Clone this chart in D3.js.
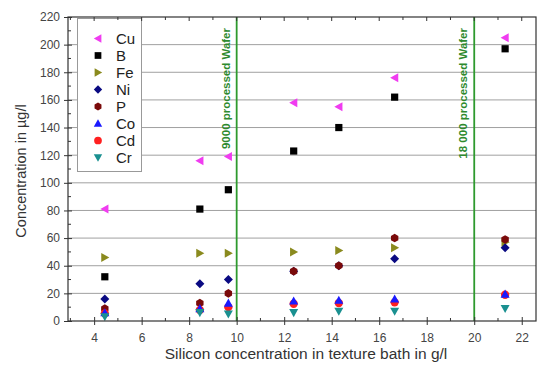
<!DOCTYPE html>
<html lang="en">
<head>
<meta charset="UTF-8">
<title>Concentration chart</title>
<script src="https://cdn.jsdelivr.net/npm/d3@7"></script>
<style>
  body { margin: 0; background: #fff; }
  svg text { font-family: "Liberation Sans", Arial, sans-serif; }
</style>
</head>
<body>
<div id="chart"></div>
<script>
// silicon concentration (g/l) for each sample
const silicon = [4.45, 8.45, 9.65, 12.4, 14.3, 16.65, 21.3];
// concentrations in µg/l, one array per element
const cu = [81, 116, 119, 158, 155, 176, 205];
const b  = [32, 81, 95, 123, 140, 162, 197];
const fe = [46, 49, 49, 50, 51, 53, 57];
const ni = [16, 27, 30, 36, 40, 45, 53];
const p  = [9, 13, 20, 36, 40, 60, 59];
const co = [6, 9, 13, 14.5, 15, 16, 19.5];
const cd = [5.5, 8, 10, 12.5, 13, 13.5, 19];
const cr = [3, 6, 5, 6, 7, 7, 9];
const xTicks = [4, 6, 8, 10, 12, 14, 16, 18, 20, 22];
const yTicks = [0, 20, 40, 60, 80, 100, 120, 140, 160, 180, 200, 220];
const markers = [10, 20];
const markerLabels = ["9000 processed Wafer", "18 000 processed Wafer"];

const series = [
  {name: "Cu", values: cu, shape: "left", color: "#f03cf0"},
  {name: "B", values: b, shape: "square", color: "#000000"},
  {name: "Fe", values: fe, shape: "right", color: "#8a8a1e"},
  {name: "Ni", values: ni, shape: "diamond", color: "#0a0a82"},
  {name: "P", values: p, shape: "hex", color: "#7a0a0a"},
  {name: "Co", values: co, shape: "up", color: "#1a1aff"},
  {name: "Cd", values: cd, shape: "circle", color: "#ff2020"},
  {name: "Cr", values: cr, shape: "down", color: "#1a9090"}
];
// Cd sits behind Co in the plot
const drawOrder = ["Cu", "B", "Fe", "Ni", "P", "Cd", "Co", "Cr"];

const width = 542, height = 365;
const marginLeft = 68, marginRight = 6, marginTop = 17, marginBottom = 44;

const x = d3.scaleLinear().domain([2.9, 22.6]).range([marginLeft, width - marginRight]);
const y = d3.scaleLinear().domain([0, 220]).range([height - marginBottom, marginTop]);

const svg = d3.select("#chart").append("svg")
  .attr("width", width)
  .attr("height", height);

// marker shapes
function shapePath(type, r) {
  switch (type) {
    case "left": return `M${-r},0L${r * 0.8},${-r}L${r * 0.8},${r}Z`;
    case "right": return `M${r},0L${-r * 0.8},${-r}L${-r * 0.8},${r}Z`;
    case "up": return `M0,${-r}L${r},${r * 0.8}L${-r},${r * 0.8}Z`;
    case "down": return `M0,${r}L${r},${-r * 0.8}L${-r},${-r * 0.8}Z`;
    case "square": return `M${-r * 0.8},${-r * 0.8}h${r * 1.6}v${r * 1.6}h${-r * 1.6}Z`;
    case "diamond": return `M0,${-r}L${r},0L0,${r}L${-r},0Z`;
    case "hex": {
      const pts = d3.range(6).map(i => {
        const a = Math.PI / 6 + i * Math.PI / 3;
        return [r * 0.95 * Math.cos(a), r * 0.95 * Math.sin(a)];
      });
      return "M" + pts.join("L") + "Z";
    }
    default: return d3.symbol(d3.symbolCircle, Math.PI * r * r * 0.85)();
  }
}

// gridlines
svg.append("g")
  .selectAll("line")
  .data(yTicks.filter(d => d > 0 && d < 220))
  .join("line")
  .attr("x1", marginLeft).attr("x2", width - marginRight)
  .attr("y1", d => y(d)).attr("y2", d => y(d))
  .attr("stroke", "#a0a0a0")
  .attr("stroke-width", 1);

// vertical wafer markers
svg.append("g")
  .selectAll("line")
  .data(markers)
  .join("line")
  .attr("x1", d => x(d)).attr("x2", d => x(d))
  .attr("y1", y(220)).attr("y2", y(0))
  .attr("stroke", "#2e9a2e")
  .attr("stroke-width", 1.8);

svg.append("g")
  .selectAll("text")
  .data(markers)
  .join("text")
  .attr("transform", d => `translate(${x(d) - 7},${marginTop + 11}) rotate(-90)`)
  .attr("text-anchor", "end")
  .attr("font-size", 11.5)
  .attr("font-weight", "bold")
  .attr("fill", "#2e8a2e")
  .text((d, i) => markerLabels[i]);

// legend box
const legend = svg.append("g");
legend.append("rect")
  .attr("x", 77.5).attr("y", marginTop + 1.5)
  .attr("width", 64).attr("height", 153)
  .attr("fill", "#fff")
  .attr("stroke", "#999");

legend.selectAll("g")
  .data(series)
  .join("g")
  .attr("transform", (d, i) => `translate(98,${38.5 + i * 17})`)
  .call(g => g.append("path")
    .attr("d", d => shapePath(d.shape, 4.2))
    .attr("fill", d => d.color))
  .call(g => g.append("text")
    .attr("x", 18)
    .attr("dy", "0.36em")
    .attr("font-size", 15)
    .attr("fill", "#222")
    .text(d => d.name));

// data points
svg.append("g")
  .selectAll("g")
  .data(drawOrder.map(n => series.find(s => s.name === n)))
  .join("g")
  .attr("fill", d => d.color)
  .selectAll("path")
  .data(d => d.values.map((v, i) => ({shape: d.shape, x: silicon[i], v})))
  .join("path")
  .attr("transform", d => `translate(${x(d.x)},${y(d.v)})`)
  .attr("d", d => shapePath(d.shape, 4.5));

// frame
svg.append("rect")
  .attr("x", marginLeft).attr("y", marginTop)
  .attr("width", width - marginRight - marginLeft)
  .attr("height", height - marginBottom - marginTop)
  .attr("fill", "none")
  .attr("stroke", "#333")
  .attr("stroke-width", 1.2);

// axes
const minorX = d3.range(3, 23, 2);
const minorY = d3.range(10, 220, 20);

const bottomAxis = svg.append("g")
  .attr("transform", `translate(0,${y(0)})`)
  .call(d3.axisBottom(x).tickValues(xTicks).tickSize(4).tickPadding(8))
  .call(g => g.select(".domain").remove());
bottomAxis.selectAll(".tick line").attr("y1", -4).attr("stroke", "#333");
bottomAxis.selectAll(".tick text").attr("font-size", 12).attr("fill", "#444");
bottomAxis.append("g").selectAll("line").data(minorX).join("line")
  .attr("x1", d => x(d)).attr("x2", d => x(d)).attr("y1", 0).attr("y2", -3)
  .attr("stroke", "#333");

const topAxis = svg.append("g")
  .attr("transform", `translate(0,${y(220)})`);
topAxis.append("g").selectAll("line").data(xTicks).join("line")
  .attr("x1", d => x(d)).attr("x2", d => x(d)).attr("y1", 0).attr("y2", 4)
  .attr("stroke", "#333");
topAxis.append("g").selectAll("line").data(minorX).join("line")
  .attr("x1", d => x(d)).attr("x2", d => x(d)).attr("y1", 0).attr("y2", 3)
  .attr("stroke", "#333");

const leftAxis = svg.append("g")
  .attr("transform", `translate(${marginLeft},0)`)
  .call(d3.axisLeft(y).tickValues(yTicks).tickSize(4).tickPadding(4))
  .call(g => g.select(".domain").remove());
leftAxis.selectAll(".tick line").attr("x1", 4).attr("stroke", "#333");
leftAxis.selectAll(".tick text").attr("font-size", 12).attr("fill", "#444");
leftAxis.append("g").selectAll("line").data(minorY).join("line")
  .attr("y1", d => y(d)).attr("y2", d => y(d)).attr("x1", 0).attr("x2", 3)
  .attr("stroke", "#333");

// axis titles
svg.append("text")
  .attr("x", 306)
  .attr("y", height - 6)
  .attr("text-anchor", "middle")
  .attr("font-size", 15.5)
  .attr("fill", "#333")
  .text("Silicon concentration in texture bath in g/l");

svg.append("text")
  .attr("transform", `translate(26,${(marginTop + height - marginBottom) / 2 + 2}) rotate(-90)`)
  .attr("text-anchor", "middle")
  .attr("font-size", 14.5)
  .attr("fill", "#333")
  .text("Concentration in µg/l");
</script>
</body>
</html>
